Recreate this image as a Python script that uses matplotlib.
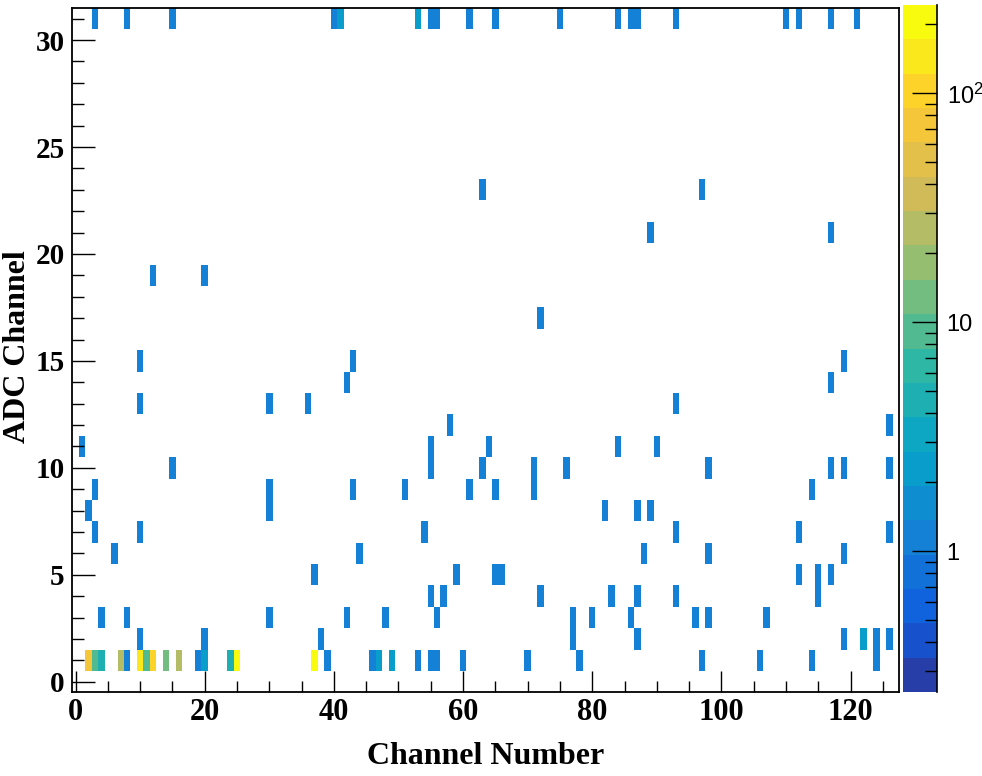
#!/usr/bin/env python3

import numpy as np
import matplotlib
matplotlib.use("Agg")
import matplotlib.pyplot as plt
from matplotlib.colors import LinearSegmentedColormap, ListedColormap, LogNorm
from matplotlib.ticker import MultipleLocator, FixedLocator


# ==========================================================
# DATA
# ==========================================================
N_CHANNELS = 128
N_ADC = 32

# cells with a single entry, listed by ADC channel
single_hits = {
    31: [3, 8, 15, 40, 55, 56, 61, 65, 75, 84, 86, 87, 93, 110, 112, 117, 121],
    23: [63, 97],
    21: [89, 117],
    19: [12, 20],
    17: [72],
    15: [10, 43, 119],
    14: [42, 117],
    13: [10, 30, 36, 93],
    12: [58, 126],
    11: [1, 55, 64, 84, 90],
    10: [15, 55, 63, 71, 76, 98, 117, 119, 126],
    9: [3, 30, 43, 51, 61, 65, 71, 114],
    8: [2, 30, 82, 87, 89],
    7: [3, 10, 54, 93, 112, 126],
    6: [6, 44, 88, 98, 119],
    5: [37, 59, 65, 66, 112, 115, 117],
    4: [55, 57, 72, 83, 87, 93, 115],
    3: [4, 8, 30, 42, 48, 56, 77, 80, 86, 96, 98, 107],
    2: [10, 20, 38, 77, 87, 119, 124, 126],
    1: [8, 19, 39, 46, 53, 55, 56, 60, 70, 78, 97, 106, 114, 124],
}

# cells with more than one entry
multi_channel = [41, 53, 122, 2, 3, 4, 7, 10, 11, 12, 14, 16, 20, 24, 25, 37, 47, 49]
multi_adc = [31, 31, 2, 1, 1, 1, 1, 1, 1, 1, 1, 1, 1, 1, 1, 1, 1, 1]
multi_count = [2, 2, 2, 70, 9, 4, 25, 140, 10, 90, 13, 25, 2, 4, 200, 243, 2, 2]

Z_MAX = 243.0
Z_MIN = 0.001 * Z_MAX
N_CONTOURS = 20

cbar_major = [1, 10, 100]
cbar_major_labels = ["1", "10", r"$\mathregular{10^{2}}$"]
cbar_minor = [0.3, 0.4, 0.5, 0.6, 0.7, 0.8, 0.9,
              2, 3, 4, 5, 6, 7, 8, 9,
              20, 30, 40, 50, 60, 70, 80, 90, 200]


# ==========================================================
# HISTOGRAM
# ==========================================================
counts = np.zeros((N_ADC, N_CHANNELS))
for adc, chans in single_hits.items():
    for ch in chans:
        counts[adc, ch] = 1
for ch, adc, c in zip(multi_channel, multi_adc, multi_count):
    counts[adc, ch] = c

z = np.ma.masked_where(counts <= 0, counts)

x_edges = np.arange(N_CHANNELS + 1) - 0.5
y_edges = np.arange(N_ADC + 1) - 0.5


# ==========================================================
# ROOT "bird" palette, 20 contour levels
# ==========================================================
bird_stops = [0.0, 0.125, 0.25, 0.375, 0.5, 0.625, 0.75, 0.875, 1.0]
bird_r = [0.2082, 0.0592, 0.0780, 0.0232, 0.1802, 0.5301, 0.8186, 0.9956, 0.9764]
bird_g = [0.1664, 0.3599, 0.5041, 0.6419, 0.7178, 0.7492, 0.7328, 0.7862, 0.9832]
bird_b = [0.5293, 0.8684, 0.8385, 0.7914, 0.6425, 0.4662, 0.3499, 0.1968, 0.0539]

bird = LinearSegmentedColormap.from_list(
    "bird", list(zip(bird_stops, zip(bird_r, bird_g, bird_b))), N=255
)
level_colors = [
    bird(int((i + 0.99) * 255 / N_CONTOURS) / 254.0) for i in range(N_CONTOURS)
]
cmap = ListedColormap(level_colors)
norm = LogNorm(vmin=Z_MIN, vmax=Z_MAX)


# ==========================================================
# PLOT STYLE
# ==========================================================
plt.rcParams.update({
    "font.family": ["Liberation Serif", "DejaVu Serif"],
    "font.weight": "bold",
    "axes.linewidth": 1.3,
})

W, H = 982, 776
fig = plt.figure(figsize=(W / 100, H / 100), dpi=100)

ax = fig.add_axes([72.3 / W, (H - 692.4) / H, 826.7 / W, 684.4 / H])
cax = fig.add_axes([903.0 / W, (H - 692.0) / H, 34.0 / W, 687.0 / H])

mesh = ax.pcolormesh(x_edges, y_edges, z, cmap=cmap, norm=norm,
                     edgecolors="none", antialiased=False)

ax.set_xlim(-0.5, N_CHANNELS - 0.5)
ax.set_ylim(-0.5, N_ADC - 0.5)

ax.xaxis.set_major_locator(MultipleLocator(20))
ax.xaxis.set_minor_locator(MultipleLocator(5))
ax.yaxis.set_major_locator(MultipleLocator(5))
ax.yaxis.set_minor_locator(MultipleLocator(1))

ax.tick_params(axis="x", which="major", direction="in", length=15, width=1.0,
               labelsize=22, pad=4, top=False)
ax.tick_params(axis="x", which="minor", direction="in", length=8, width=1.0,
               top=False)
ax.tick_params(axis="y", which="major", direction="in", length=16.5, width=1.0,
               labelsize=21, pad=5.5, right=False)
ax.tick_params(axis="y", which="minor", direction="in", length=8.5, width=1.0,
               right=False)

ax.set_xlabel("Channel Number", fontsize=23, fontweight="bold")
ax.xaxis.set_label_coords(0.5, -0.093)
ax.xaxis.label.set_va("center")

ax.set_ylabel("ADC Channel", fontsize=23, fontweight="bold")
ax.yaxis.set_label_coords(-0.0657, 0.505)
ax.yaxis.label.set_va("center")


# ==========================================================
# COLOR BAR
# ==========================================================
cb = fig.colorbar(mesh, cax=cax)
cb.outline.set_visible(False)
cax.plot([1, 1], [0, 1], transform=cax.transAxes, color="black", lw=1.2,
         clip_on=False)

cb.set_ticks(cbar_major)
cb.set_ticklabels(cbar_major_labels)
cax.yaxis.set_minor_locator(FixedLocator(cbar_minor))
cax.tick_params(which="major", direction="in", length=18, width=1.0,
                labelsize=17, pad=7)
cax.tick_params(which="minor", direction="in", length=8.5, width=1.0)
for lab in cax.get_yticklabels():
    lab.set_family(["Liberation Sans", "DejaVu Sans"])
    lab.set_fontweight("normal")

fig.savefig("out.png", dpi=100)
